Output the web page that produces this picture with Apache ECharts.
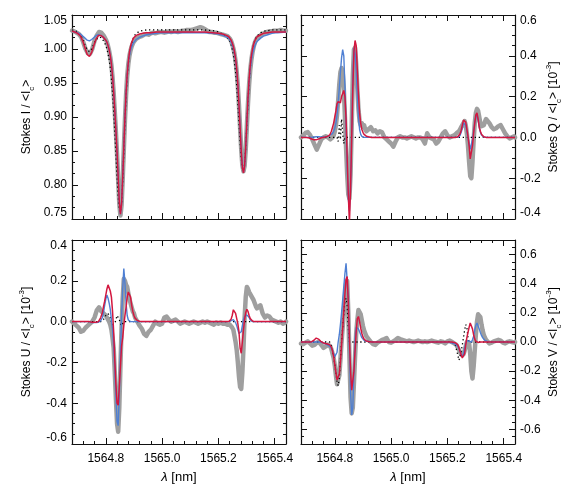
<!DOCTYPE html>
<html><head><meta charset="utf-8">
<script src="https://cdn.jsdelivr.net/npm/echarts@6/dist/echarts.min.js"></script>
<style>html,body{margin:0;padding:0;background:#fff}#c{width:580px;height:496px}</style>
</head><body><div id="c"></div>
<script>
// ---- wavelength grids (nm) ----
const lambdaModel = [
1564.680,1564.690,1564.700,1564.710,1564.718,1564.726,1564.734,1564.742,1564.750,1564.758,1564.766,1564.774,1564.782,
1564.788,1564.792,1564.796,1564.800,1564.804,1564.808,1564.812,1564.816,1564.820,1564.824,1564.828,1564.832,1564.836,1564.840,1564.844,1564.848,1564.852,1564.856,1564.860,1564.864,1564.868,1564.872,1564.876,1564.880,1564.884,1564.888,1564.892,1564.896,1564.900,1564.904,1564.908,1564.912,
1564.920,1564.930,1564.945,1564.960,1564.980,1565.000,1565.030,1565.060,1565.090,1565.120,1565.150,1565.180,1565.200,1565.215,1565.228,
1565.237,1565.241,1565.245,1565.249,1565.253,1565.257,1565.261,1565.265,1565.269,1565.273,1565.277,1565.281,1565.285,1565.289,1565.293,1565.297,1565.301,1565.305,1565.309,1565.313,1565.317,1565.321,1565.325,1565.329,1565.333,1565.337,1565.341,
1565.350,1565.360,1565.375,1565.390,1565.410,1565.440];

const lambdaObs = [
1564.680,1564.688,1564.696,1564.704,1564.712,1564.720,1564.728,1564.736,1564.744,1564.752,1564.760,1564.768,1564.776,1564.784,
1564.788,1564.792,1564.796,1564.800,1564.804,1564.808,1564.812,1564.816,1564.820,1564.824,1564.828,1564.832,1564.836,1564.840,1564.844,1564.848,1564.852,1564.856,1564.860,1564.864,1564.868,1564.872,1564.876,1564.880,1564.884,1564.888,1564.892,1564.896,1564.900,1564.904,1564.908,1564.912,
1564.920,1564.928,1564.936,1564.944,1564.952,1564.960,1564.968,1564.976,1564.984,1564.992,1565.000,1565.008,1565.016,1565.024,1565.032,1565.040,1565.048,1565.056,1565.064,1565.072,1565.080,1565.088,1565.096,1565.104,1565.112,1565.120,1565.128,1565.136,1565.144,1565.152,1565.160,1565.168,1565.176,1565.184,1565.192,1565.200,1565.208,1565.216,1565.224,1565.232,
1565.237,1565.241,1565.245,1565.249,1565.253,1565.257,1565.261,1565.265,1565.269,1565.273,1565.277,1565.281,1565.285,1565.289,1565.293,1565.297,1565.301,1565.305,1565.309,1565.313,1565.317,1565.321,1565.325,1565.329,1565.333,1565.337,1565.341,
1565.349,1565.357,1565.365,1565.373,1565.381,1565.389,1565.397,1565.405,1565.413,1565.421,1565.429,1565.437,1565.440];

// ---- Stokes I ----
const iGray = [
1.027,1.026,1.024,1.022,1.018,1.010,1.000,0.994,0.993,1.000,1.012,1.020,1.025,1.024,
1.022,1.020,1.017,1.014,1.010,1.004,0.997,0.988,0.976,0.958,0.935,0.907,0.877,0.845,0.808,0.772,0.755,0.770,0.808,0.852,0.895,0.932,0.960,0.978,0.990,0.998,1.004,1.008,1.011,1.013,1.015,1.016,
1.018,1.019,1.021,1.022,1.021,1.023,1.024,1.023,1.024,1.025,1.025,1.024,1.025,1.026,1.025,1.026,1.026,1.025,1.026,1.027,1.027,1.028,1.028,1.028,1.029,1.030,1.031,1.032,1.031,1.029,1.027,1.025,1.025,1.024,1.024,1.023,1.022,1.021,1.020,1.019,
1.017,1.015,1.012,1.007,1.001,0.993,0.982,0.966,0.945,0.917,0.884,0.852,0.829,0.820,0.828,0.852,0.886,0.920,0.948,0.969,0.984,0.995,1.003,1.009,1.013,1.016,1.018,
1.020,1.022,1.024,1.025,1.026,1.026,1.027,1.027,1.027,1.028,1.027,1.027,1.027];
const iDotted = [
1.028,1.027,1.025,1.021,1.015,1.006,0.999,0.996,1.000,1.008,1.014,1.017,1.017,
1.015,1.012,1.009,1.005,1.000,0.993,0.984,0.972,0.956,0.935,0.908,0.878,0.845,0.812,0.783,0.765,0.760,0.772,0.805,0.848,0.892,0.930,0.958,0.978,0.992,1.002,1.009,1.014,1.018,1.021,1.023,1.024,
1.026,1.027,1.028,1.028,1.028,1.028,1.028,1.028,1.028,1.028,1.028,1.027,1.025,1.022,1.018,
1.014,1.011,1.006,1.000,0.992,0.981,0.966,0.946,0.921,0.893,0.864,0.840,0.825,0.821,0.830,0.855,0.888,0.921,0.950,0.972,0.987,0.998,1.006,1.012,1.016,1.019,1.021,
1.024,1.026,1.027,1.028,1.028,1.028];
const iBlue = [
1.026,1.025,1.024,1.022,1.019,1.016,1.013,1.012,1.014,1.017,1.020,1.021,1.020,
1.019,1.017,1.015,1.013,1.010,1.005,0.999,0.990,0.978,0.960,0.937,0.910,0.880,0.848,0.812,0.775,0.757,0.772,0.810,0.855,0.898,0.935,0.962,0.980,0.990,0.998,1.003,1.007,1.010,1.012,1.014,1.015,
1.017,1.019,1.021,1.022,1.023,1.024,1.024,1.024,1.024,1.024,1.024,1.023,1.022,1.020,1.018,
1.016,1.013,1.010,1.006,1.001,0.994,0.984,0.968,0.946,0.917,0.884,0.851,0.827,0.819,0.828,0.855,0.890,0.924,0.951,0.970,0.983,0.992,0.999,1.004,1.008,1.011,1.013,
1.016,1.019,1.021,1.023,1.024,1.025];
const iRed = [
1.026,1.025,1.023,1.019,1.012,1.002,0.992,0.989,0.995,1.006,1.015,1.020,1.020,
1.019,1.017,1.015,1.013,1.010,1.005,0.999,0.990,0.978,0.960,0.937,0.910,0.880,0.848,0.812,0.775,0.757,0.772,0.810,0.855,0.898,0.935,0.962,0.981,0.995,1.004,1.010,1.014,1.017,1.019,1.020,1.021,
1.022,1.023,1.024,1.024,1.025,1.025,1.025,1.025,1.025,1.025,1.025,1.024,1.023,1.022,1.020,
1.018,1.016,1.013,1.009,1.004,0.996,0.986,0.970,0.948,0.918,0.884,0.850,0.826,0.818,0.828,0.856,0.893,0.928,0.956,0.976,0.990,1.000,1.007,1.012,1.015,1.018,1.019,
1.021,1.023,1.024,1.025,1.025,1.025];

// ---- Stokes Q (1e-3) ----
const qGray = [
0.0,0.01,0.022,0.026,0.012,-0.01,-0.035,-0.06,-0.035,-0.01,0.0,0.005,0.0,-0.01,
-0.005,0.0,0.01,0.03,0.06,0.11,0.18,0.26,0.32,0.34,0.32,0.24,0.10,-0.05,-0.18,-0.28,-0.30,-0.18,0.05,0.30,0.43,0.44,0.36,0.24,0.14,0.08,0.06,0.07,0.05,0.06,0.04,0.03,
0.04,0.05,0.03,0.035,0.02,0.03,0.025,0.0,-0.01,-0.02,-0.03,-0.045,-0.02,0.0,0.005,0.0,0.0,-0.005,0.0,0.005,0.0,-0.005,0.0,0.0,-0.01,-0.03,0.02,0.0,-0.005,-0.01,-0.03,-0.02,0.0,0.02,0.03,0.01,0.0,0.005,0.01,0.02,
0.02,0.03,0.04,0.05,0.06,0.07,0.08,0.06,0.02,-0.04,-0.12,-0.19,-0.20,-0.12,-0.02,0.07,0.12,0.14,0.13,0.10,0.07,0.055,0.05,0.06,0.075,0.09,0.09,
0.07,0.05,0.04,0.045,0.055,0.06,0.04,0.02,0.005,-0.005,0.0,0.005,0.0];
const qDotted = [
0,0,0,0,0,0,0,0,0,0, 0,0,0,
0,0,0,0,0,0,-0.02,0.06,-0.01,0.09,0.02,-0.03,
0,0,0,0,0,0,0,0,0,0, 0,0,0,0,0,0,0,0,0,0,
0,0,0,0,0,0,0,0,0,0, 0,0,0,0,0,
0,0,0,0,0,0,0,0,0,0, 0,0,0,0,0,0,0,0,0,0, 0,0,0,0,0,0,0,
0,0,0,0,0,0];
const qBlue = [
0,0,0,0,0,0.002,0.003,0.003,0.002,0.002,0.003,0.005,0.01,
0.015,0.02,0.03,0.045,0.07,0.11,0.17,0.24,0.32,0.39,0.43,0.40,0.25,0.05,-0.15,-0.30,-0.36,-0.25,0.02,0.30,0.44,0.41,0.32,0.20,0.10,0.04,0.015,0.005,0.002,0,0,0,
0,0,0,0,0,0,0,0,0,0, 0,0,0,0,0,
0,0.003,0.01,0.025,0.045,0.07,0.077,0.06,0.03,0.0,-0.03,-0.058,-0.05,-0.01,0.03,0.07,0.10,0.11,0.085,0.05,0.025,0.012,0.005,0.002,0,0,0,
0,0,0,0,0,0];
const qRed = [
0,0,0,-0.003,-0.008,-0.012,-0.012,-0.008,-0.003,0,0.002,0.005,0.012,
0.03,0.05,0.07,0.10,0.13,0.165,0.175,0.18,0.17,0.20,0.215,0.23,0.20,0.09,-0.10,-0.28,-0.42,-0.25,0.0,0.24,0.42,0.475,0.45,0.33,0.21,0.12,0.07,0.04,0.025,0.015,0.01,0.006,
0.003,0,0,0,0,0,0,0,0,0, 0,0,0,0,0,
0.003,0.008,0.018,0.035,0.06,0.085,0.093,0.075,0.04,0.005,-0.04,-0.105,-0.10,-0.04,0.02,0.07,0.11,0.12,0.09,0.05,0.03,0.015,0.007,0.003,0.001,0,0,
0,0,0,0,0,0];

// ---- Stokes U (1e-3) ----
const uGray = [
0.0,-0.01,-0.02,-0.03,-0.05,-0.045,-0.03,-0.02,-0.01,0.0,0.02,0.055,0.07,0.05,
0.045,0.04,0.035,0.03,0.02,0.01,0.0,-0.015,-0.04,-0.08,-0.13,-0.25,-0.38,-0.50,-0.54,-0.42,-0.22,-0.03,0.11,0.21,0.20,0.18,0.17,0.14,0.11,0.09,0.07,0.05,0.04,0.02,0.01,0.0,
-0.02,-0.035,-0.06,-0.07,-0.05,-0.04,-0.02,0.0,-0.01,-0.015,-0.01,0.02,0.025,0.01,0.0,0.005,0.01,0.0,-0.01,-0.005,0.0,-0.005,-0.01,-0.005,0.0,-0.005,-0.01,-0.005,0.0,-0.005,0.0,-0.005,-0.01,-0.015,-0.005,-0.01,-0.005,-0.01,-0.01,-0.015,
-0.015,-0.016,-0.02,-0.03,-0.04,-0.07,-0.10,-0.14,-0.20,-0.27,-0.32,-0.33,-0.25,-0.13,0.02,0.12,0.17,0.16,0.145,0.135,0.125,0.115,0.105,0.09,0.075,0.065,0.07,
0.08,0.04,0.02,0.03,0.025,0.01,0.005,0.0,-0.005,0.0,-0.01,-0.005,0.0];
const uDotted = [
0,0,0,0,0,0,0,0,0,0, 0,0,0,
0.005,0.01,0.02,0.03,0.035,0.04,0.035,0.02,0.0,-0.015,-0.02,-0.01,0.01,0.03,0.03,0.01,-0.01,-0.02,-0.01,0.0,
0,0,0,0,0,0,0,0,0,0, 0,0,
0,0,0,0,0,0,0,0,0,0, 0,0,0,0,0,
0,0,0,0,0,0,0,0,0,0, 0,0,0,0,0,0,0,0,0,0, 0,0,0,0,0,0,0,
0,0,0,0,0,0];
const uBlue = [
0,0,0,0,0,0,0,0,-0.005,-0.005,-0.005,-0.003,0.005,
0.02,0.045,0.08,0.11,0.13,0.115,0.09,0.06,0.01,-0.04,-0.12,-0.24,-0.37,-0.49,-0.51,-0.36,-0.15,0.02,0.16,0.26,0.19,0.09,0.03,0.008,0,0,0,0,0,0,0,0,
0,0,0,0,0,0,0,0,0,0, 0,0,0,0,0,
0,0.002,0.005,0.008,0.01,0.005,-0.005,-0.02,-0.04,-0.058,-0.065,-0.05,-0.02,0.01,0.025,0.03,0.033,0.033,0.02,0.008,0.003,0,0,0,0,0,0,
0,0,0,0,0,0];
const uRed = [
0,0,0,0,0,0,0,0,-0.003,-0.003,-0.003,0.0,0.02,
0.045,0.075,0.10,0.13,0.16,0.18,0.175,0.15,0.12,0.05,-0.05,-0.19,-0.31,-0.40,-0.41,-0.32,-0.22,-0.12,-0.08,-0.02,0.03,0.07,0.12,0.145,0.145,0.12,0.08,0.05,0.03,0.017,0.01,0.005,
0.002,0,0,0,0,0,0,0,0,0, 0,0,0,0,0,
0,0.004,0.012,0.03,0.058,0.062,0.04,0.015,-0.01,-0.05,-0.13,-0.155,-0.10,-0.04,0.01,0.045,0.06,0.05,0.03,0.015,0.007,0.003,0,0,0,0,0,
0,0,0,0,0,0];

// ---- Stokes V (1e-3) ----
const vGray = [
-0.01,-0.015,-0.005,0.005,-0.01,-0.025,-0.02,-0.005,0.0,-0.02,-0.04,-0.03,-0.018,-0.03,
-0.05,-0.08,-0.11,-0.16,-0.23,-0.29,-0.29,-0.23,-0.12,0.0,0.10,0.20,0.30,0.40,0.42,0.20,-0.10,-0.38,-0.49,-0.45,-0.28,-0.10,0.06,0.15,0.22,0.22,0.19,0.15,0.11,0.08,0.06,0.04,
0.02,0.0,-0.015,-0.02,-0.005,0.005,0.015,0.02,0.027,0.0,-0.005,0.005,0.015,0.027,0.02,0.015,0.01,0.005,0.01,0.005,0.0,0.005,0.01,0.005,0.0,0.005,0.0,0.005,0.01,0.005,0.0,-0.005,0.005,0.0,-0.01,0.005,0.01,0.0,-0.01,-0.02,
-0.04,-0.055,-0.07,-0.085,-0.09,-0.085,-0.06,-0.03,0.0,0.01,-0.01,-0.08,-0.20,-0.25,-0.17,-0.06,0.05,0.14,0.19,0.20,0.17,0.12,0.08,0.05,0.03,0.015,0.005,
-0.01,-0.005,0.005,0.01,0.015,0.01,-0.005,-0.01,0.0,0.005,0.0,-0.005,0.0];
const vDotted = [
0,0,0,0,0,0,0,0,0,0, 0,0,0,
-0.03,-0.06,-0.10,-0.15,-0.21,-0.27,-0.30,-0.25,-0.12,0.0,0.10,0.20,0.28,0.30,0.25,0.10,0.0,
0,0,0,0,0,0,0,0,0,0, 0,0,0,0,0,
0,0,0,0,0,0,0,0,0,0, 0,0,0,0,-0.02,
-0.09,-0.125,-0.10,-0.06,-0.02,0.03,0.08,0.12,0.10,0.03,0.0,
0,0,0,0,0,0,0,0,0,0, 0,0,0,0,0,0,
0,0,0,0,0,0];
const vBlue = [
0,0,0,0,0,0,0,0,0,-0.005,-0.012,-0.02,-0.03,
-0.045,-0.06,-0.08,-0.10,-0.11,-0.07,0.0,0.05,0.12,0.20,0.29,0.38,0.47,0.54,0.55,0.30,-0.05,-0.35,-0.50,-0.45,-0.20,0.02,0.10,0.11,0.09,0.07,0.05,0.03,0.02,0.012,0.008,0.005,
0.003,0,0,0,0,0,0,0,0,0,0,0,-0.002,-0.005,-0.015,
-0.03,-0.045,-0.065,-0.085,-0.10,-0.08,-0.04,-0.01,0.01,0.015,0.005,-0.005,0.0,0.015,0.04,0.08,0.115,0.13,0.12,0.09,0.065,0.045,0.03,0.02,0.012,0.007,0.004,
0.002,0,0,0,0,0];
const vRed = [
0,0,0,0,0.002,0.012,0.027,0.02,0.005,-0.005,-0.01,-0.014,-0.02,
-0.035,-0.06,-0.10,-0.155,-0.21,-0.26,-0.26,-0.22,-0.14,-0.02,0.09,0.21,0.33,0.43,0.45,0.27,0.02,-0.20,-0.33,-0.33,-0.20,-0.06,0.07,0.16,0.175,0.14,0.095,0.06,0.035,0.02,0.012,0.007,
0.003,0,0,0,0,0,0,0,0,0,0,0,0,0,-0.005,
-0.02,-0.04,-0.065,-0.09,-0.11,-0.12,-0.08,-0.02,0.03,0.065,0.10,0.13,0.125,0.09,0.05,0.02,0.005,0,-0.003,0,0,0,0,0,0,0,0,
0,0,0,0,0,0];

// ---- tick labels ----
const xTickLabels = [1564.8, 1565.0, 1565.2, 1565.4];
const iTickLabels = [0.75, 0.80, 0.85, 0.90, 0.95, 1.00, 1.05];
const qTickLabels = [-0.4, -0.2, 0.0, 0.2, 0.4, 0.6];
const uTickLabels = [-0.6, -0.4, -0.2, 0.0, 0.2, 0.4];
const vTickLabels = [-0.6, -0.4, -0.2, 0.0, 0.2, 0.4, 0.6];

// ---- sanity check ----
const modelArrs = {iDotted,iBlue,iRed,qDotted,qBlue,qRed,uDotted,uBlue,uRed,vDotted,vBlue,vRed};
const obsArrs = {iGray,qGray,uGray,vGray};
const bad = [];
for (const k in modelArrs) if (modelArrs[k].length !== lambdaModel.length) bad.push(k+' '+modelArrs[k].length+'/'+lambdaModel.length);
for (const k in obsArrs) if (obsArrs[k].length !== lambdaObs.length) bad.push(k+' '+obsArrs[k].length+'/'+lambdaObs.length);
if (bad.length) throw new Error('length mismatch: ' + bad.join(', '));

const FONT = '"Liberation Sans", Arial, Helvetica, sans-serif';
const X_MIN = 1564.68, X_MAX = 1565.44;
function steps(min, max, step) {
  const out = []; const n = Math.round((max - min) / step);
  for (let k = 0; k <= n; k++) out.push(Math.round((min + k * step) * 1e6) / 1e6);
  return out;
}
const xMinor = steps(X_MIN, X_MAX, 0.04);

const nameRich = {
  sub: {fontSize: 8, lineHeight: 8, verticalAlign: 'bottom', fontFamily: FONT, color: '#000'},
  sup: {fontSize: 8, lineHeight: 8, verticalAlign: 'top', fontFamily: FONT, color: '#000'},
  it: {fontStyle: 'italic', fontSize: 13, fontFamily: FONT, color: '#000'}
};

const panels = [
  {grid: {left: 72, top: 15, width: 214, height: 204}, yMin: 0.75, yMax: 1.05, yTicks: iTickLabels, yMinor: steps(0.75, 1.05, 0.05/3), dec: 2, side: 'left', edge: true,
   name: 'Stokes I / <I{sub|c}>', xLabels: false, gray: iGray, dotted: iDotted, blue: iBlue, red: iRed},
  {grid: {left: 301, top: 15, width: 214, height: 204}, yMin: -0.4, yMax: 0.6, yTicks: qTickLabels, yMinor: steps(-0.4, 0.6, 0.05), dec: 1, side: 'right', edge: true,
   name: 'Stokes Q / <I{sub|c}> [10{sup|-3}]', xLabels: false, gray: qGray, dotted: qDotted, blue: qBlue, red: qRed},
  {grid: {left: 72, top: 240, width: 214, height: 204}, yMin: -0.6, yMax: 0.4, yTicks: uTickLabels, yMinor: steps(-0.6, 0.4, 0.05), dec: 1, side: 'left', edge: true,
   name: 'Stokes U / <I{sub|c}> [10{sup|-3}]', xLabels: true, gray: uGray, dotted: uDotted, blue: uBlue, red: uRed},
  {grid: {left: 301, top: 240, width: 214, height: 204}, yMin: -0.7, yMax: 0.7, yTicks: vTickLabels, yMinor: steps(-0.7, 0.7, 0.05), dec: 1, side: 'right', edge: false,
   name: 'Stokes V / <I{sub|c}> [10{sup|-3}]', xLabels: true, gray: vGray, dotted: vDotted, blue: vBlue, red: vRed}
];

const grids = [], xAxes = [], yAxes = [], series = [];
const lineBlack = {show: true, onZero: false, lineStyle: {color: '#111', width: 1.2}};
const noLine = {show: false, onZero: false};
const tickStyle = {color: '#111', width: 1};
panels.forEach((p, gi) => {
  grids.push(Object.assign({outerBoundsMode: 'none', containLabel: false}, p.grid));
  const xb = {type: 'value', gridIndex: gi, min: X_MIN, max: X_MAX, splitLine: {show: false}, silent: true};
  const xMain = xAxes.length;
  xAxes.push(Object.assign({}, xb, {position: 'bottom', axisLine: lineBlack,
    axisTick: {show: true, inside: true, length: 6, customValues: xTickLabels, lineStyle: tickStyle},
    axisLabel: {show: p.xLabels, customValues: xTickLabels, formatter: v => Number(v).toFixed(1), margin: 9, fontSize: 12, color: '#000', fontFamily: FONT},
    name: p.xLabels ? '{it|λ} [nm]' : '', nameLocation: 'middle', nameGap: 27,
    nameTextStyle: {fontSize: 13, color: '#000', fontFamily: FONT, rich: nameRich}}));
  xAxes.push(Object.assign({}, xb, {position: 'bottom', axisLine: noLine,
    axisTick: {show: true, inside: true, length: 3, customValues: xMinor, lineStyle: tickStyle},
    axisLabel: {show: false, customValues: xMinor}}));
  xAxes.push(Object.assign({}, xb, {position: 'top', axisLine: lineBlack,
    axisTick: {show: true, inside: true, length: 6, customValues: xTickLabels, lineStyle: tickStyle},
    axisLabel: {show: false, customValues: xTickLabels}}));
  xAxes.push(Object.assign({}, xb, {position: 'top', axisLine: noLine,
    axisTick: {show: true, inside: true, length: 3, customValues: xMinor, lineStyle: tickStyle},
    axisLabel: {show: false, customValues: xMinor}}));

  const yb = {type: 'value', gridIndex: gi, min: p.yMin, max: p.yMax, splitLine: {show: false}, silent: true};
  const other = p.side === 'left' ? 'right' : 'left';
  const yMain = yAxes.length;
  const lbl = {show: true, customValues: p.yTicks, formatter: v => Number(v).toFixed(p.dec), margin: 5, fontSize: 12, color: '#000', fontFamily: FONT};
  if (p.edge) { lbl.verticalAlignMinLabel = 'bottom'; lbl.verticalAlignMaxLabel = 'top'; }
  yAxes.push(Object.assign({}, yb, {position: p.side, axisLine: lineBlack,
    axisTick: {show: true, inside: true, length: 6, customValues: p.yTicks, lineStyle: tickStyle},
    axisLabel: lbl,
    name: p.name, nameLocation: 'middle', nameRotate: 90, nameGap: p.side === 'left' ? 36 : 29,
    nameTextStyle: {fontSize: 12, lineHeight: 18, color: '#000', fontFamily: FONT, rich: nameRich}}));
  yAxes.push(Object.assign({}, yb, {position: p.side, axisLine: noLine,
    axisTick: {show: true, inside: true, length: 3, customValues: p.yMinor, lineStyle: tickStyle},
    axisLabel: {show: false, customValues: p.yMinor}}));
  yAxes.push(Object.assign({}, yb, {position: other, axisLine: lineBlack,
    axisTick: {show: true, inside: true, length: 6, customValues: p.yTicks, lineStyle: tickStyle},
    axisLabel: {show: false, customValues: p.yTicks}}));
  yAxes.push(Object.assign({}, yb, {position: other, axisLine: noLine,
    axisTick: {show: true, inside: true, length: 3, customValues: p.yMinor, lineStyle: tickStyle},
    axisLabel: {show: false, customValues: p.yMinor}}));

  const mk = (xs, ys, style, z) => ({type: 'line', xAxisIndex: xMain, yAxisIndex: yMain, symbol: 'none', showSymbol: false,
    data: xs.map((x, i) => [x, ys[i]]), lineStyle: style, z: z, silent: true, animation: false, clip: true,
    emphasis: {disabled: true}});
  series.push(mk(lambdaObs, p.gray, {color: '#9f9f9f', width: 4.5, cap: 'round', join: 'round'}, 2));
  series.push(mk(lambdaModel, p.dotted, {color: '#000', width: 1.3, type: [1.3, 2.7]}, 3));
  series.push(mk(lambdaModel, p.blue, {color: '#4e7fd3', width: 1.4}, 4));
  series.push(mk(lambdaModel, p.red, {color: '#d3173f', width: 1.5}, 5));
});

const chart = echarts.init(document.getElementById('c'), null, {renderer: 'canvas'});
chart.setOption({animation: false, backgroundColor: '#fff', grid: grids, xAxis: xAxes, yAxis: yAxes, series: series});
</script>
</body></html>
